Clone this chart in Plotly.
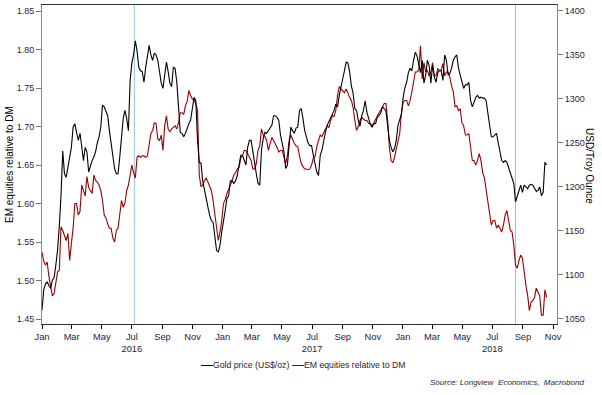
import pandas as pd
import plotly.graph_objects as go

# ---- data: readings every week (starting Fri 2016-01-01) and mid-week in between ----
start_date = "2016-01-01"

gold_usd_week = [
    1060, 1090, 1088, 1094, 1111, 1155, 1241, 1211, 1236, 1268,
    1262, 1261, 1230, 1240, 1225, 1234, 1250, 1268, 1291, 1281,
    1250, 1221, 1215, 1261, 1287, 1264, 1341, 1366, 1336, 1331,
    1336, 1361, 1344, 1350, 1331, 1312, 1342, 1318, 1336, 1319,
    1262, 1257, 1267, 1276, 1302, 1253, 1227, 1196, 1177, 1162,
    1145, 1126, 1149, 1173, 1190, 1207, 1207, 1227, 1236, 1225,
    1253, 1242, 1215, 1202, 1255, 1261, 1267, 1281, 1279, 1259,
    1240, 1225, 1268, 1261, 1268, 1289, 1264, 1250, 1247, 1225,
    1213, 1242, 1262, 1274, 1283, 1294, 1304, 1323, 1342, 1331,
    1307, 1287, 1269, 1287, 1285, 1271, 1272, 1279, 1284, 1289,
    1270, 1245, 1244, 1270, 1283, 1313, 1330, 1332, 1353, 1338,
    1344, 1327, 1338, 1338, 1319, 1332, 1321, 1344, 1329, 1344,
    1350, 1327, 1312, 1316, 1298, 1298, 1304, 1302, 1301, 1284,
    1257, 1259, 1250, 1230, 1230, 1222, 1211, 1183, 1196, 1194,
    1200, 1202, 1202, 1195, 1200, 1194, 1225,
]
gold_usd_mid = [
    1083, 1092, 1085, 1097, 1128, 1190, 1215, 1222, 1245, 1272,
    1253, 1242, 1245, 1217, 1230, 1240, 1257, 1293, 1285, 1264,
    1232, 1215, 1234, 1278, 1278, 1321, 1350, 1355, 1332, 1319,
    1348, 1350, 1352, 1344, 1318, 1331, 1331, 1314, 1335, 1291,
    1261, 1261, 1272, 1289, 1298, 1228, 1207, 1188, 1168, 1160,
    1128, 1134, 1159, 1187, 1207, 1204, 1213, 1236, 1230, 1245,
    1253, 1228, 1204, 1242, 1262, 1264, 1270, 1281, 1276, 1247,
    1221, 1247, 1264, 1267, 1287, 1278, 1257, 1247, 1236, 1217,
    1236, 1253, 1270, 1278, 1287, 1291, 1312, 1332, 1341, 1315,
    1289, 1276, 1281, 1298, 1278, 1268, 1272, 1281, 1291, 1287,
    1253, 1240, 1253, 1278, 1302, 1319, 1335, 1344, 1349, 1330,
    1318, 1344, 1318, 1325, 1330, 1332, 1350, 1327, 1335, 1348,
    1335, 1319, 1316, 1319, 1291, 1302, 1301, 1301, 1298, 1272,
    1257, 1261, 1238, 1228, 1228, 1217, 1204, 1189, 1202, 1202,
    1198, 1203, 1198, 1196, 1190, 1228,
]

em_vs_dm_week = [
    1.537, 1.520, 1.505, 1.480, 1.495, 1.513, 1.565, 1.552, 1.526, 1.568,
    1.600, 1.590, 1.618, 1.635, 1.617, 1.637, 1.628, 1.617, 1.585, 1.574,
    1.568, 1.550, 1.568, 1.604, 1.601, 1.624, 1.650, 1.633, 1.662, 1.662,
    1.660, 1.675, 1.695, 1.704, 1.682, 1.669, 1.714, 1.693, 1.699, 1.697,
    1.718, 1.716, 1.733, 1.740, 1.734, 1.721, 1.622, 1.630, 1.628, 1.617,
    1.585, 1.552, 1.578, 1.605, 1.620, 1.630, 1.640, 1.647, 1.662, 1.669,
    1.662, 1.645, 1.652, 1.675, 1.689, 1.682, 1.678, 1.682, 1.673, 1.669,
    1.662, 1.662, 1.689, 1.678, 1.674, 1.652, 1.645, 1.644, 1.650, 1.661,
    1.682, 1.687, 1.697, 1.699, 1.714, 1.721, 1.752, 1.747, 1.749, 1.738,
    1.725, 1.695, 1.708, 1.710, 1.708, 1.704, 1.705, 1.714, 1.721, 1.730,
    1.708, 1.656, 1.660, 1.682, 1.718, 1.734, 1.727, 1.745, 1.771, 1.773,
    1.762, 1.771, 1.766, 1.783, 1.766, 1.773, 1.782, 1.771, 1.764, 1.745,
    1.727, 1.723, 1.701, 1.689, 1.669, 1.656, 1.656, 1.656, 1.633, 1.604,
    1.572, 1.578, 1.572, 1.563, 1.585, 1.578, 1.563, 1.520, 1.526, 1.529,
    1.494, 1.461, 1.474, 1.490, 1.480, 1.455, 1.478,
]
em_vs_dm_mid = [
    1.525, 1.524, 1.494, 1.483, 1.511, 1.570, 1.557, 1.561, 1.548, 1.600,
    1.585, 1.624, 1.610, 1.621, 1.613, 1.630, 1.624, 1.604, 1.581, 1.568,
    1.555, 1.565, 1.591, 1.595, 1.617, 1.637, 1.640, 1.660, 1.660, 1.662,
    1.662, 1.691, 1.705, 1.684, 1.689, 1.701, 1.697, 1.697, 1.701, 1.705,
    1.718, 1.727, 1.747, 1.736, 1.730, 1.637, 1.624, 1.633, 1.622, 1.604,
    1.563, 1.563, 1.600, 1.613, 1.624, 1.637, 1.645, 1.659, 1.669, 1.665,
    1.656, 1.645, 1.669, 1.697, 1.687, 1.669, 1.686, 1.678, 1.667, 1.669,
    1.652, 1.682, 1.682, 1.675, 1.662, 1.648, 1.645, 1.645, 1.659, 1.674,
    1.689, 1.693, 1.701, 1.708, 1.713, 1.740, 1.749, 1.744, 1.743, 1.734,
    1.708, 1.700, 1.712, 1.708, 1.704, 1.701, 1.710, 1.718, 1.726, 1.730,
    1.673, 1.653, 1.671, 1.691, 1.732, 1.734, 1.734, 1.757, 1.771, 1.805,
    1.783, 1.773, 1.771, 1.766, 1.775, 1.773, 1.766, 1.771, 1.753, 1.726,
    1.721, 1.705, 1.689, 1.691, 1.656, 1.650, 1.665, 1.640, 1.617, 1.591,
    1.578, 1.568, 1.568, 1.572, 1.591, 1.565, 1.546, 1.516, 1.533, 1.507,
    1.481, 1.472, 1.478, 1.485, 1.455, 1.488,
]

event_dates = ["2016-07-06", "2018-08-17"]
left_ticks = [1.45, 1.50, 1.55, 1.60, 1.65, 1.70, 1.75, 1.80, 1.85]
right_ticks = [1050, 1100, 1150, 1200, 1250, 1300, 1350, 1400]
series_names = ["Gold price (US$/oz)", "EM equities relative to DM"]

# ---- assemble the two series (weekly readings + mid-week readings, in date order) ----
week_dates = pd.date_range(start_date, periods=len(gold_usd_week), freq="7D")
mid_dates = week_dates[:len(gold_usd_mid)] + pd.Timedelta(hours=84)

def combine(week_vals, mid_vals):
    s = pd.concat([pd.Series(week_vals, index=week_dates),
                   pd.Series(mid_vals, index=mid_dates)]).sort_index()
    return s

gold = combine(gold_usd_week, gold_usd_mid)
em = combine(em_vs_dm_week, em_vs_dm_mid)

month_ticks = pd.date_range("2016-01-01", "2018-11-01", freq="2MS")
tick_text = [d.strftime("%b") + (f"<br>{d.year}" if d.month == 7 else "") for d in month_ticks]

FONT = "Arial, Liberation Sans, sans-serif"
TXT = "#1e1e38"
GOLD_C = "#000000"
EM_C = "#990000"

# plot area in pixels (for placing free text outside it)
L, R, T, B = 42, 557, 5, 324
W, H = R - L, B - T
def px(x):
    return (x - L) / W
def py(y):
    return (B - y) / H

fig = go.Figure()
fig.add_trace(go.Scatter(x=gold.index, y=gold.values, yaxis="y2", mode="lines",
                         line=dict(color=GOLD_C, width=1.1),
                         name=series_names[0], showlegend=False))
fig.add_trace(go.Scatter(x=em.index, y=em.values, yaxis="y", mode="lines",
                         line=dict(color=EM_C, width=1.1),
                         name=series_names[1], showlegend=False))

for d in event_dates:
    fig.add_shape(type="line", xref="x", yref="paper", x0=d, x1=d, y0=0, y1=1,
                  line=dict(color="#8cc8dc", width=1), layer="below")

fig.update_layout(
    width=602, height=395,
    margin=dict(l=L, r=602 - R, t=T, b=395 - B),
    paper_bgcolor="white", plot_bgcolor="white",
    font=dict(family=FONT, size=9, color=TXT),
    showlegend=False,
    xaxis=dict(
        range=["2016-01-01", "2018-11-09"], automargin=False,
        tickmode="array", tickvals=month_ticks, ticktext=tick_text,
        ticks="outside", ticklen=4, tickcolor="#000",
        showline=True, linecolor="#333", linewidth=1, mirror=True,
        showgrid=False, zeroline=False,
        tickfont=dict(size=9.3, color=TXT),
    ),
    yaxis=dict(
        range=[1.4435, 1.858], automargin=False,
        tickmode="array", tickvals=left_ticks,
        tickformat=".2f", ticks="outside", ticklen=5, tickcolor="#777",
        showline=True, linecolor="#888", linewidth=1,
        showgrid=False, zeroline=False, tickfont=dict(size=9, color=TXT),
    ),
    yaxis2=dict(
        range=[1044.3, 1406.8], overlaying="y", side="right", automargin=False,
        tickmode="array", tickvals=right_ticks,
        ticks="outside", ticklen=5, tickcolor="#777",
        showline=True, linecolor="#888", linewidth=1,
        showgrid=False, zeroline=False, tickfont=dict(size=9, color=TXT),
    ),
)

# axis titles
fig.add_annotation(text="EM equities relative to DM", xref="paper", yref="paper",
                   x=px(10), y=py(165), textangle=-90,
                   showarrow=False, xanchor="center", yanchor="middle",
                   font=dict(size=10, color="#000"))
fig.add_annotation(text="USD/Troy Ounce", xref="paper", yref="paper",
                   x=px(590), y=py(166), textangle=90,
                   showarrow=False, xanchor="center", yanchor="middle",
                   font=dict(size=10, color="#000"))

# legend drawn as text: coloured dash + label
legend_items = [(series_names[0], GOLD_C, 199), (series_names[1], EM_C, 290)]
for name, col, x0 in legend_items:
    fig.add_annotation(text="—", xref="paper", yref="paper", x=px(x0), y=py(365),
                       showarrow=False, xanchor="left", yanchor="middle",
                       font=dict(size=12, color=col))
    fig.add_annotation(text=name, xref="paper", yref="paper", x=px(x0 + 12), y=py(365),
                       showarrow=False, xanchor="left", yanchor="middle",
                       font=dict(size=8.7, color=TXT))

fig.add_annotation(text="<i>Source: Longview  Economics,  Macrobond</i>",
                   xref="paper", yref="paper",
                   x=px(586), y=py(382), showarrow=False,
                   xanchor="right", yanchor="middle",
                   font=dict(size=8, color=TXT))

# remove the browser's default 8px page margin so the figure sits at (0, 0)
fig.write_html("out.html", config={"displayModeBar": False},
               post_script="document.body.style.margin='0';document.body.style.overflow='hidden';")
